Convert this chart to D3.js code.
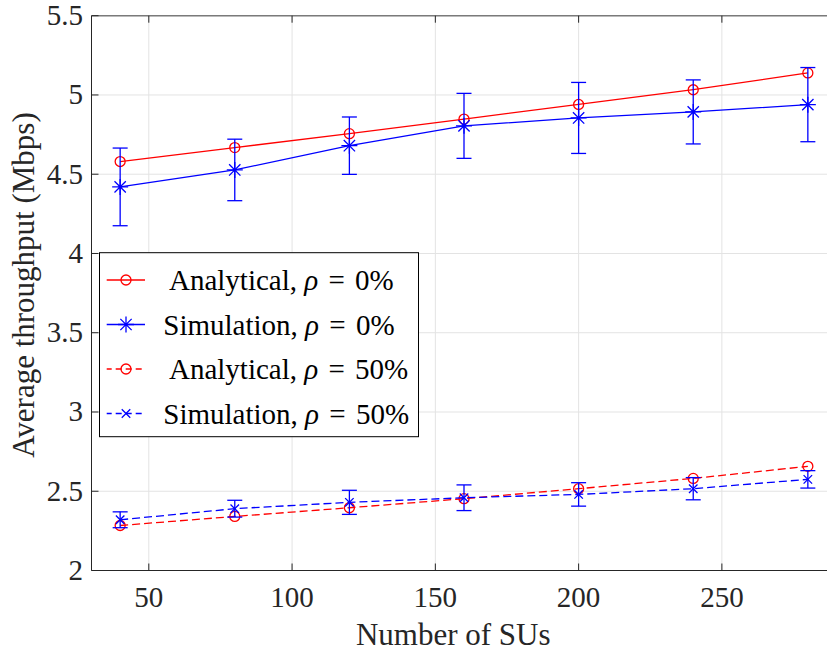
<!DOCTYPE html>
<html>
<head>
<meta charset="utf-8">
<script src="https://cdn.jsdelivr.net/npm/d3@7"></script>
<style>
  body { margin: 0; background: #fff; }
  text { font-family: "Liberation Serif", "Times New Roman", serif; }
</style>
</head>
<body>
<div id="chart"></div>
<script>
// Data
var nSUs = [40, 80, 120, 160, 200, 240, 280];
var anal0 = [4.58, 4.668, 4.756, 4.848, 4.94, 5.033, 5.139];
var sim0 = [4.42, 4.527, 4.68, 4.805, 4.855, 4.893, 4.939];
var sim0Err = [0.245, 0.194, 0.181, 0.205, 0.224, 0.202, 0.234];
var anal50 = [2.284, 2.341, 2.396, 2.453, 2.516, 2.581, 2.657];
var sim50 = [2.32, 2.39, 2.43, 2.459, 2.48, 2.516, 2.575];
var sim50Err = [0.05, 0.053, 0.076, 0.081, 0.074, 0.07, 0.055];

var xTicks = [50, 100, 150, 200, 250];
var yTicks = [2, 2.5, 3, 3.5, 4, 4.5, 5, 5.5];

var legendLabels = [' Analytical, ', 'Simulation, ', ' Analytical, ', 'Simulation, '];
var legendRho = ['0%', '0%', '50%', '50%'];

var xAxisTitle = 'Number of SUs';
var yAxisTitle = 'Average throughput (Mbps)';

var W = 827, H = 654;
var plotLeft = 91.5, plotTop = 15.7, plotBottom = 570.5, plotRight = 836.5;
var axisColor = '#262626';

var svg = d3.select('#chart').append('svg')
  .attr('width', W).attr('height', H);

var x = d3.scaleLinear().domain([30, 290]).range([plotLeft, plotRight]);
var y = d3.scaleLinear().domain([2, 5.5]).range([plotBottom, plotTop]);

// grid
var grid = svg.append('g').attr('stroke', '#e3e3e3').attr('stroke-width', 1);
grid.selectAll('.gx').data(xTicks).enter().append('line')
  .attr('x1', function(d){ return x(d); }).attr('x2', function(d){ return x(d); })
  .attr('y1', plotTop).attr('y2', plotBottom);
grid.selectAll('.gy').data(yTicks).enter().append('line')
  .attr('x1', plotLeft).attr('x2', W)
  .attr('y1', function(d){ return y(d); }).attr('y2', function(d){ return y(d); });

function makeSeries(vals) {
  return nSUs.map(function(n, i){ return {x: n, y: vals[i]}; });
}

var line = d3.line().x(function(d){ return x(d.x); }).y(function(d){ return y(d.y); });
var lw = 1.3;

// error bars
function drawErr(vals, errs) {
  var g = svg.append('g').attr('stroke', '#0000ff').attr('stroke-width', lw);
  nSUs.forEach(function(n, i){
    var cx = x(n), y0 = y(vals[i] - errs[i]), y1 = y(vals[i] + errs[i]);
    g.append('line').attr('x1', cx).attr('x2', cx).attr('y1', y0).attr('y2', y1);
    g.append('line').attr('x1', cx - 7.5).attr('x2', cx + 7.5).attr('y1', y0).attr('y2', y0);
    g.append('line').attr('x1', cx - 7.5).attr('x2', cx + 7.5).attr('y1', y1).attr('y2', y1);
  });
}

function drawMarker(g, type, cx, cy, color) {
  if (type === 'o') {
    g.append('circle').attr('cx', cx).attr('cy', cy).attr('r', 5)
      .attr('fill', 'none').attr('stroke', color).attr('stroke-width', lw);
  } else {
    var s = type === '*' ? 8 : 6;
    var d = s * 0.7071;
    var p = 'M' + (cx - d) + ',' + (cy - d) + 'L' + (cx + d) + ',' + (cy + d) +
            'M' + (cx - d) + ',' + (cy + d) + 'L' + (cx + d) + ',' + (cy - d);
    if (type === '*') {
      p += 'M' + (cx - s) + ',' + cy + 'L' + (cx + s) + ',' + cy +
           'M' + cx + ',' + (cy - s) + 'L' + cx + ',' + (cy + s);
    }
    g.append('path').attr('d', p).attr('fill', 'none')
      .attr('stroke', color).attr('stroke-width', lw);
  }
}

function drawSeries(vals, color, dash, marker) {
  var g = svg.append('g');
  g.append('path').datum(makeSeries(vals))
    .attr('d', line).attr('fill', 'none')
    .attr('stroke', color).attr('stroke-width', lw)
    .attr('stroke-dasharray', dash);
  nSUs.forEach(function(n, i){ drawMarker(g, marker, x(n), y(vals[i]), color); });
}

drawSeries(anal0, '#ff0000', null, 'o');
drawErr(sim0, sim0Err);
drawSeries(sim0, '#0000ff', null, '*');
drawSeries(anal50, '#ff0000', '8,4', 'o');
drawErr(sim50, sim50Err);
drawSeries(sim50, '#0000ff', '8,4', 'x');

// axes
var ax = svg.append('g');
ax.append('line').attr('x1', plotLeft).attr('x2', W).attr('y1', plotTop).attr('y2', plotTop)
  .attr('stroke', '#7a7a7a').attr('stroke-width', 1.5);
ax.append('line').attr('x1', plotLeft).attr('x2', W).attr('y1', plotBottom).attr('y2', plotBottom)
  .attr('stroke', axisColor).attr('stroke-width', 1);
ax.append('line').attr('x1', plotLeft).attr('x2', plotLeft).attr('y1', plotTop).attr('y2', plotBottom)
  .attr('stroke', axisColor).attr('stroke-width', 1);

xTicks.forEach(function(t){
  ax.append('line').attr('x1', x(t)).attr('x2', x(t)).attr('y1', plotBottom).attr('y2', plotBottom - 7)
    .attr('stroke', axisColor);
  ax.append('line').attr('x1', x(t)).attr('x2', x(t)).attr('y1', plotTop).attr('y2', plotTop + 7)
    .attr('stroke', axisColor);
  ax.append('text').attr('x', x(t)).attr('y', 607)
    .attr('text-anchor', 'middle').attr('font-size', 29).attr('fill', axisColor)
    .text(t);
});
yTicks.forEach(function(t){
  ax.append('line').attr('x1', plotLeft).attr('x2', plotLeft + 7).attr('y1', y(t)).attr('y2', y(t))
    .attr('stroke', axisColor);
  ax.append('text').attr('x', 83).attr('y', y(t) + 9.5)
    .attr('text-anchor', 'end').attr('font-size', 29).attr('fill', axisColor)
    .text(t);
});

svg.append('text').attr('x', (plotLeft + 815) / 2).attr('y', 645)
  .attr('text-anchor', 'middle').attr('font-size', 31).attr('fill', axisColor)
  .text(xAxisTitle);
svg.append('text')
  .attr('transform', 'translate(34,' + 285 + ') rotate(-90)')
  .attr('text-anchor', 'middle').attr('font-size', 31).attr('fill', axisColor)
  .text(yAxisTitle);

// legend
var lg = svg.append('g');
lg.append('rect').attr('x', 99.5).attr('y', 252.7).attr('width', 319).attr('height', 184)
  .attr('fill', '#fff').attr('stroke', '#000').attr('stroke-width', 1);
var legColors = ['#ff0000', '#0000ff', '#ff0000', '#0000ff'];
var legDash = [null, null, '8,4', '8,4'];
var legMarkers = ['o', '*', 'o', 'x'];
legendLabels.forEach(function(lab, i){
  var cy = 280 + i * 44.5;
  lg.append('line').attr('x1', 106.7).attr('x2', 145).attr('y1', cy).attr('y2', cy)
    .attr('stroke', legColors[i]).attr('stroke-width', lw)
    .attr('stroke-dasharray', legDash[i] ? '6,4' : null)
    .attr('stroke-dashoffset', legDash[i] ? 1 : null);
  drawMarker(lg, legMarkers[i], 126, cy, legColors[i]);
  var t = lg.append('text').attr('x', 163.3).attr('y', cy + 10)
    .attr('font-size', 29).attr('fill', '#000').style('white-space', 'pre');
  t.append('tspan').text(lab);
  t.append('tspan').attr('font-style', 'italic').text('\u03c1');
  t.append('tspan').attr('dx', 3).text(' =');
  t.append('tspan').attr('dx', 3).text(' ' + legendRho[i]);
});
</script>
</body>
</html>
